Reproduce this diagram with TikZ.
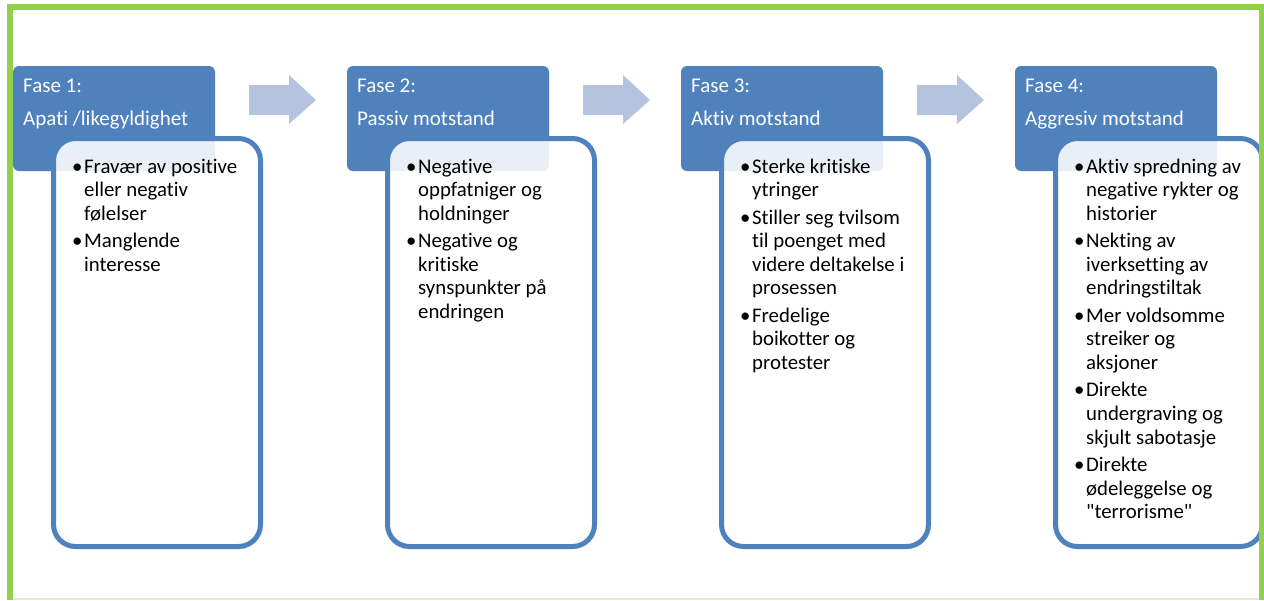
\documentclass[tikz,border=0pt]{standalone}
\usepackage{fontspec}
\newfontfamily\carl{Carlito}[Ligatures=NoCommon]
\definecolor{frame}{HTML}{92D050}
\definecolor{framepale}{HTML}{DDEFCB}
\definecolor{phase}{HTML}{4F81BD}
\definecolor{flow}{HTML}{B4C4DE}
% bullet cell of a list row
\newcommand\bul{\makebox[12pt][l]{\textbullet}}
\newcommand\gap{\\[3.8pt]}
\tikzset{
  x=1pt, y=-1pt,
  head/.style={fill=phase, draw=none, rounded corners=6pt},
  headtext/.style={text=white, font=\carl\fontsize{21}{33}\selectfont, anchor=base west, inner sep=0pt},
  body/.style={draw=phase, line width=5pt, fill=white, fill opacity=0.88, rounded corners=22pt},
  bodytext/.style={anchor=base west, inner sep=0pt, font=\carl\fontsize{20.8}{23.6}\selectfont},
  flowarrow/.style={fill=flow, draw=none}
}
\newenvironment{blist}{\begin{tabular}[t]{@{}l@{}l@{}}}{\end{tabular}}
\begin{document}
\begin{tikzpicture}
\useasboundingbox (0,0) rectangle (1264,600);
\fill[white] (0,0) rectangle (1264,600);

% phase header boxes, one column every 334 units
\foreach \i/\t in {0/{Apati /likegyldighet},1/{Passiv motstand},2/{Aktiv motstand},3/{Aggresiv motstand}}{
  \pgfmathsetmacro\ox{334*\i}
  \pgfmathtruncatemacro\n{\i+1}
  \fill[head] (13+\ox,66) rectangle (215+\ox,171);
  \node[headtext] (h\n) at (23+\ox,92) {\begin{tabular}[t]{@{}l@{}}Fase \n:\\\t\end{tabular}};
}
% translucent body boxes laid over the headers
\foreach \i in {0,1,2,3}{
  \pgfmathsetmacro\ox{334*\i}
  \pgfmathtruncatemacro\n{\i+1}
  \path[body] (53.5+\ox,138.5) rectangle (260.5+\ox,546.5);
  \coordinate (b\n) at (72+\ox,173);
}

% arrows between phases
\foreach \i in {0,1,2}{
  \pgfmathsetmacro\ox{334*\i}
  \fill[flowarrow] (249+\ox,85) -- (289+\ox,85) -- (289+\ox,75) -- (316+\ox,100)
    -- (289+\ox,124) -- (289+\ox,115) -- (249+\ox,115) -- cycle;
}

% bullet lists
\node[bodytext] (t1) at (b1) {\begin{blist}
  \bul & Fravær av positive\\ & eller negativ\\ & følelser\gap
  \bul & Manglende\\ & interesse
\end{blist}};
\node[bodytext] (t2) at (b2) {\begin{blist}
  \bul & Negative\\ & oppfatniger og\\ & holdninger\gap
  \bul & Negative og\\ & kritiske\\ & synspunkter på\\ & endringen
\end{blist}};
\node[bodytext] (t3) at (b3) {\begin{blist}
  \bul & Sterke kritiske\\ & ytringer\gap
  \bul & Stiller seg tvilsom\\ & til poenget med\\ & videre deltakelse i\\ & prosessen\gap
  \bul & Fredelige\\ & boikotter og\\ & protester
\end{blist}};
\node[bodytext] (t4) at (b4) {\begin{blist}
  \bul & Aktiv spredning av\\ & negative rykter og\\ & historier\gap
  \bul & Nekting av\\ & iverksetting av\\ & endringstiltak\gap
  \bul & Mer voldsomme\\ & streiker og\\ & aksjoner\gap
  \bul & Direkte\\ & undergraving og\\ & skjult sabotasje\gap
  \bul & Direkte\\ & ødeleggelse og\\ & "terrorisme"
\end{blist}};

% surrounding frame
\draw[framepale, line width=1.5pt] (13,599) -- (1260,599);
\draw[frame, line width=6pt] (10,600) -- (10,7) -- (1262,7) -- (1262,600);
\end{tikzpicture}
\end{document}
